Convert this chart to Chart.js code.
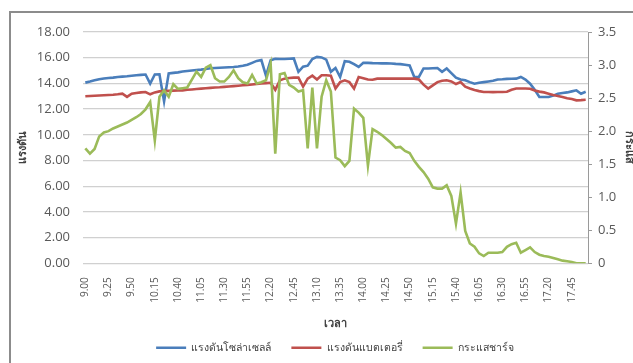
<!DOCTYPE html>
<html>
<head>
<meta charset="utf-8">
<script src="https://cdn.jsdelivr.net/npm/chart.js@4/dist/chart.umd.min.js"></script>
<style>
  html, body { margin: 0; padding: 0; background: #fff; }
  #wrap { width: 633px; height: 363px; }
</style>
</head>
<body>
<div id="wrap"><canvas id="c" width="633" height="363"></canvas></div>
<script>
// Sample times, every 5 minutes from 9.00 to 18.00
const times = [
  '9.00','9.05','9.10','9.15','9.20','9.25','9.30','9.35','9.40','9.45','9.50','9.55',
  '10.00','10.05','10.10','10.15','10.20','10.25','10.30','10.35','10.40','10.45','10.50','10.55',
  '11.00','11.05','11.10','11.15','11.20','11.25','11.30','11.35','11.40','11.45','11.50','11.55',
  '12.00','12.05','12.10','12.15','12.20','12.25','12.30','12.35','12.40','12.45','12.50','12.55',
  '13.00','13.05','13.10','13.15','13.20','13.25','13.30','13.35','13.40','13.45','13.50','13.55',
  '14.00','14.05','14.10','14.15','14.20','14.25','14.30','14.35','14.40','14.45','14.50','14.55',
  '15.00','15.05','15.10','15.15','15.20','15.25','15.30','15.35','15.40','15.45','15.50','15.55',
  '16.00','16.05','16.10','16.15','16.20','16.25','16.30','16.35','16.40','16.45','16.50','16.55',
  '17.00','17.05','17.10','17.15','17.20','17.25','17.30','17.35','17.40','17.45','17.50','17.55',
  '18.00'
];

// Solar panel voltage (V)
const solarVoltage = [
  14.06,14.15,14.25,14.33,14.38,14.42,14.45,14.5,14.53,14.56,
  14.6,14.63,14.66,14.69,13.98,14.69,14.7,12.6,14.78,14.82,
  14.86,14.92,14.96,15.0,15.04,15.07,15.12,15.18,15.2,15.22,
  15.24,15.26,15.28,15.32,15.38,15.45,15.6,15.75,15.82,14.6,
  15.8,15.92,15.9,15.9,15.92,15.94,14.9,15.3,15.38,15.9,
  16.06,16.02,15.85,14.9,15.2,14.5,15.73,15.68,15.5,15.28,
  15.6,15.6,15.58,15.57,15.56,15.56,15.55,15.52,15.5,15.45,
  15.4,14.5,14.5,15.16,15.16,15.18,15.2,14.9,15.16,14.8,
  14.45,14.3,14.24,14.1,13.98,14.05,14.1,14.15,14.2,14.3,
  14.32,14.35,14.36,14.37,14.5,14.3,13.98,13.5,12.94,12.94,
  12.94,13.05,13.2,13.25,13.3,13.38,13.46,13.2,13.35
];

// Battery voltage (V)
const batteryVoltage = [
  13.0,13.02,13.04,13.06,13.08,13.1,13.12,13.15,13.2,12.95,
  13.2,13.25,13.3,13.33,13.15,13.3,13.38,13.4,13.42,13.44,
  13.45,13.46,13.5,13.53,13.56,13.59,13.62,13.65,13.68,13.7,
  13.73,13.76,13.79,13.82,13.85,13.88,13.92,13.96,14.0,14.02,
  14.05,13.5,14.24,14.37,14.42,14.45,14.45,13.75,14.37,14.6,
  14.3,14.63,14.63,14.6,13.6,14.1,14.24,14.1,13.6,14.5,
  14.4,14.3,14.28,14.37,14.37,14.37,14.37,14.37,14.37,14.37,
  14.37,14.37,14.3,13.9,13.6,13.85,14.1,14.2,14.24,14.15,
  13.95,14.1,13.75,13.6,13.48,13.4,13.33,13.33,13.32,13.33,
  13.33,13.35,13.5,13.6,13.6,13.6,13.58,13.45,13.36,13.3,
  13.2,13.1,13.02,12.95,12.85,12.78,12.68,12.7,12.73
];

// Charging current (A), right-hand axis
const chargeCurrent = [
  1.74,1.66,1.73,1.92,1.98,2.0,2.04,2.07,2.1,2.13,
  2.17,2.21,2.26,2.33,2.44,1.86,2.52,2.62,2.52,2.71,
  2.64,2.65,2.66,2.78,2.9,2.82,2.96,3.0,2.8,2.75,
  2.75,2.82,2.92,2.8,2.74,2.72,2.85,2.72,2.74,2.77,
  3.02,1.66,2.86,2.88,2.7,2.66,2.6,2.62,1.74,2.66,
  1.74,2.52,2.77,2.6,1.6,1.56,1.47,1.55,2.34,2.28,
  2.2,1.48,2.03,1.99,1.94,1.88,1.82,1.75,1.76,1.7,
  1.67,1.55,1.46,1.38,1.28,1.15,1.13,1.13,1.18,1.02,
  0.6,1.07,0.49,0.3,0.25,0.15,0.11,0.16,0.16,0.16,
  0.17,0.25,0.29,0.31,0.16,0.2,0.24,0.17,0.13,0.11,
  0.1,0.08,0.06,0.04,0.03,0.02,0,0,0
];

const seriesNames = ['แรงดันโซล่าเซลล์', 'แรงดันแบตเตอรี่', 'กระแสชาร์จ'];
const labelEvery = 5;

const FONT = "'Open Sans', 'Noto Sans', 'DejaVu Sans', sans-serif";
Chart.defaults.font.family = FONT;
Chart.defaults.color = '#595959';

// Grey frame around the whole figure
const framePlugin = {
  id: 'frame',
  beforeDraw(chart) {
    const ctx = chart.ctx;
    ctx.save();
    ctx.fillStyle = '#ffffff';
    ctx.fillRect(0, 0, chart.width, chart.height);
    ctx.strokeStyle = '#8c8c8c';
    ctx.lineWidth = 2;
    ctx.strokeRect(10, 12, chart.width, chart.height);
    ctx.restore();
  }
};

new Chart(document.getElementById('c'), {
  type: 'line',
  data: {
    labels: times,
    datasets: [
      { label: seriesNames[0], data: solarVoltage, yAxisID: 'y', order: 3,
        borderColor: '#4a7ebb', backgroundColor: '#4a7ebb' },
      { label: seriesNames[1], data: batteryVoltage, yAxisID: 'y', order: 2,
        borderColor: '#c0504d', backgroundColor: '#c0504d' },
      { label: seriesNames[2], data: chargeCurrent, yAxisID: 'y1', order: 1,
        borderColor: '#9bbb59', backgroundColor: '#9bbb59' }
    ]
  },
  options: {
    responsive: false,
    animation: false,
    layout: { padding: { left: 37, right: 0, top: 32, bottom: 0 } },
    elements: {
      line: { borderWidth: 2.6, tension: 0 },
      point: { radius: 0, hoverRadius: 0, borderWidth: 2.6 }
    },
    plugins: {
      tooltip: { enabled: false },
      legend: {
        position: 'bottom',
        labels: {
          usePointStyle: true,
          pointStyle: 'line',
          pointStyleWidth: 30,
          padding: 20,
          color: '#404040',
          font: { size: 10.5 },
          sort: (a, b) => a.datasetIndex - b.datasetIndex
        }
      }
    },
    scales: {
      x: {
        type: 'category',
        offset: true,
        grid: { display: false, drawTicks: false },
        border: { display: false },
        ticks: {
          autoSkip: false,
          minRotation: 90,
          maxRotation: 90,
          padding: 14,
          font: { size: 10 },
          callback: (v, i) => (i % labelEvery === 0 ? times[i] : '')
        },
        title: {
          display: true, text: 'เวลา', color: '#404040',
          font: { size: 11, weight: 'bold' },
          padding: { top: 4, bottom: -8 }
        },
        afterFit(s) { s.height = 59.2; }
      },
      y: {
        position: 'left',
        min: 0, max: 18,
        grid: { color: '#d0d0d0', lineWidth: 1.3, drawTicks: false },
        border: { display: false },
        ticks: {
          stepSize: 2, padding: 13, font: { size: 13 },
          callback: v => Number(v).toFixed(2)
        },
        title: {
          display: true, text: 'แรงดัน', color: '#404040',
          font: { size: 11, weight: 'bold' },
          padding: { top: -21, bottom: 0 }
        },
        afterFit(s) { s.width = 46; }
      },
      y1: {
        position: 'right',
        min: 0, max: 3.5,
        grid: { drawOnChartArea: false, drawTicks: true, tickLength: 4, color: '#9a9a9a' },
        border: { display: true, color: '#9a9a9a', width: 1 },
        ticks: { stepSize: 0.5, padding: 6, font: { size: 13 } },
        title: {
          display: true, text: 'กระแส', color: '#404040',
          font: { size: 11, weight: 'bold' },
          padding: { top: -2.6, bottom: 0 }
        },
        afterFit(s) { s.width = 45; }
      }
    }
  },
  plugins: [framePlugin]
});
</script>
</body>
</html>
